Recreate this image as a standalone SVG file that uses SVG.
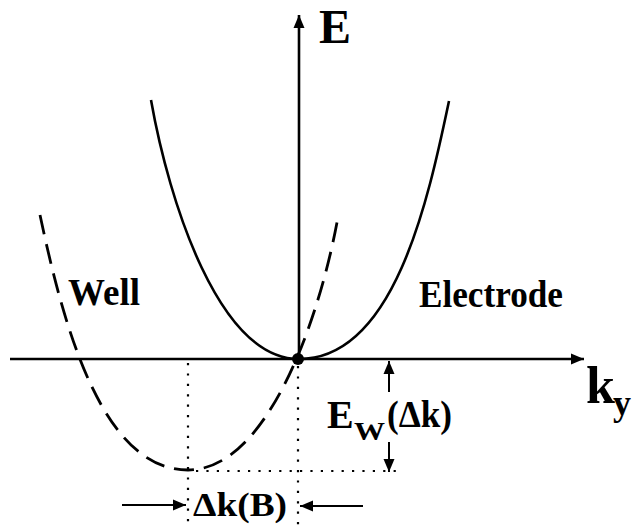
<svg xmlns="http://www.w3.org/2000/svg" width="643" height="532" viewBox="0 0 643 532">
<style>
.ax{stroke:#000;stroke-width:2.6;fill:none}
.sol{stroke:#000;stroke-width:2.6;fill:none}
.dash{stroke:#000;stroke-width:2.8;fill:none;stroke-dasharray:20 10}
.dot{stroke:#000;stroke-width:2.2;fill:none;stroke-dasharray:2.2 8.2}
.arr{stroke:#000;stroke-width:2;fill:none}
text{font-family:'Liberation Serif',Tinos,'Noto Serif','DejaVu Serif',FreeSerif,'Nimbus Roman','Nimbus Roman No9 L',Times,'Times New Roman',Georgia,serif;font-weight:bold;fill:#000}
</style>
<defs>
<marker id="ah" markerUnits="userSpaceOnUse" markerWidth="14" markerHeight="12" refX="13" refY="6" orient="auto">
<path d="M0,0.5 L13,6 L0,11.5 z" fill="#000"/>
</marker>
</defs>
<rect width="643" height="532" fill="#fff"/>
<g id="connectors">
<line id="axis-E" class="ax" x1="299" y1="359" x2="299" y2="15" marker-end="url(#ah)"/>
<line id="axis-ky" class="ax" x1="10" y1="359" x2="584" y2="359" marker-end="url(#ah)"/>
<path id="electrode-curve" class="sol" d="M151,100 C169,202 219,359 299,359 C394,359 428,201 449,101"/>
<path id="well-curve" class="dash" d="M40,215 C64,329 103,470 188,470 C268,470 320,317 338,217"/>
<line class="dot" x1="188" y1="363" x2="188" y2="528"/>
<line class="dot" x1="298" y1="366" x2="298" y2="528"/>
<line class="dot" x1="196" y1="471" x2="400" y2="471"/>
<line class="arr" x1="389" y1="392" x2="389" y2="361" marker-end="url(#ah)"/>
<line class="arr" x1="389" y1="442" x2="389" y2="472" marker-end="url(#ah)"/>
<line class="arr" x1="122" y1="505" x2="186" y2="505" marker-end="url(#ah)"/>
<line class="arr" x1="363" y1="506" x2="300" y2="506" marker-end="url(#ah)"/>
</g>
<circle id="origin" cx="298" cy="359" r="6"/>
<g id="label-E"><text x="319" y="43" font-size="48">E</text></g>
<g id="label-ky"><text x="586" y="403" font-size="52">k</text><text x="613" y="415" font-size="36">y</text></g>
<g id="label-well"><text x="68" y="305" font-size="38" textLength="72" lengthAdjust="spacingAndGlyphs">Well</text></g>
<g id="label-electrode"><text x="419" y="307" font-size="38" textLength="144" lengthAdjust="spacingAndGlyphs">Electrode</text></g>
<g id="label-ew"><text x="327" y="428" font-size="40">E</text><text x="354" y="440" font-size="26" textLength="31" lengthAdjust="spacingAndGlyphs">W</text><text x="387" y="427" font-size="37" textLength="65" lengthAdjust="spacingAndGlyphs">(Δk)</text></g>
<g id="label-dk"><text x="193" y="516" font-size="34" textLength="94" lengthAdjust="spacingAndGlyphs">Δk(B)</text></g>
</svg>
